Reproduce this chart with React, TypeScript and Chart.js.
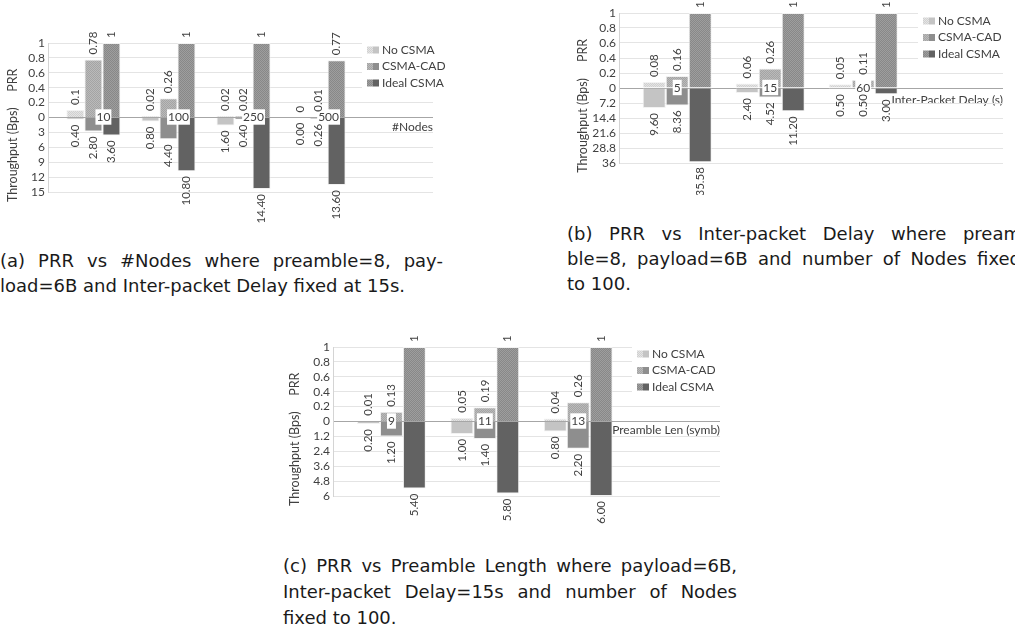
import React, { useEffect, useRef } from 'react';
import { Chart, registerables } from 'chart.js';

Chart.register(...registerables);

// ---------- shared ----------
const SERIES = ['No CSMA', 'CSMA-CAD', 'Ideal CSMA'];
const PRR_TICKS = ['0', '0.2', '0.4', '0.6', '0.8', '1'];

// ---------- (a) PRR vs #Nodes ----------
const A_CATEGORIES = ['10', '100', '250', '500'];
const A_PRR_NO = [0.1, 0.02, 0.02, 0];
const A_PRR_CAD = [0.78, 0.26, 0.02, 0.01];
const A_PRR_IDEAL = [1, 1, 1, 0.77];
const A_THR_NO = [0.4, 0.8, 1.6, 0.0];
const A_THR_CAD = [2.8, 4.4, 0.4, 0.26];
const A_THR_IDEAL = [3.6, 10.8, 14.4, 13.6];
const A_THR_TICKS = ['3', '6', '9', '12', '15'];

// ---------- (b) PRR vs Inter-packet Delay ----------
const B_CATEGORIES = ['5', '15', '60'];
const B_PRR_NO = [0.08, 0.06, 0.05];
const B_PRR_CAD = [0.16, 0.26, 0.11];
const B_PRR_IDEAL = [1, 1, 1];
const B_THR_NO = [9.6, 2.4, 0.5];
const B_THR_CAD = [8.36, 4.52, 0.5];
const B_THR_IDEAL = [35.58, 11.2, 3.0];
const B_THR_TICKS = ['7.2', '14.4', '21.6', '28.8', '36'];

// ---------- (c) PRR vs Preamble Length ----------
const C_CATEGORIES = ['9', '11', '13'];
const C_PRR_NO = [0.01, 0.05, 0.04];
const C_PRR_CAD = [0.13, 0.19, 0.26];
const C_PRR_IDEAL = [1, 1, 1];
const C_THR_NO = [0.2, 1.0, 0.8];
const C_THR_CAD = [1.2, 1.4, 2.2];
const C_THR_IDEAL = [5.4, 5.8, 6.0];
const C_THR_TICKS = ['1.2', '2.4', '3.6', '4.8', '6'];

const CAPTION_A = [
  '(a) PRR vs #Nodes where preamble=8, pay-',
  'load=6B and Inter-packet Delay fixed at 15s.',
];
const CAPTION_B = [
  '(b) PRR vs Inter-packet Delay where pream',
  'ble=8, payload=6B and number of Nodes fixed',
  'to 100.',
];
const CAPTION_C = [
  '(c) PRR vs Preamble Length where payload=6B,',
  'Inter-packet Delay=15s and number of Nodes',
  'fixed to 100.',
];

// ---------- styles ----------
const FONT = 'Lato';
const CAPTION_FONT = '"DejaVu Sans"';
const TEXT = '#404040';
const PRR_COLORS = [
  ['#d0d0d0', '#e4e4e4'],
  ['#a4a4a4', '#bababa'],
  ['#888888', '#9e9e9e'],
];
const THR_COLORS = ['#c4c4c4', '#8e8e8e', '#626262'];

function makePattern(base: string, dot: string) {
  const c = document.createElement('canvas');
  c.width = 2;
  c.height = 2;
  const g = c.getContext('2d')!;
  g.fillStyle = base;
  g.fillRect(0, 0, 2, 2);
  g.fillStyle = dot;
  g.fillRect(0, 0, 1, 1);
  g.fillRect(1, 1, 1, 1);
  return g.createPattern(c, 'repeat');
}

const overlayPlugin = {
  id: 'overlay',
  afterDraw(chart: any) {
    const o = chart.options.plugins.overlay;
    const ctx = chart.ctx;
    const area = chart.chartArea;
    const y = chart.scales.y;
    ctx.save();
    // value labels (rotated)
    ctx.font = `11.5px ${FONT}`;
    ctx.fillStyle = TEXT;
    ctx.textBaseline = 'middle';
    chart.data.datasets.forEach((ds: any, i: number) => {
      const meta = chart.getDatasetMeta(i);
      meta.data.forEach((bar: any, j: number) => {
        const txt = o.labels[i][j];
        ctx.save();
        if (o.kinds[i] === 'prr') {
          ctx.translate(bar.x, Math.min(bar.y, bar.base) - 5);
          ctx.rotate(-Math.PI / 2);
          ctx.textAlign = 'left';
        } else {
          ctx.translate(bar.x, Math.max(bar.y, bar.base) + 5);
          ctx.rotate(-Math.PI / 2);
          ctx.textAlign = 'right';
        }
        ctx.fillText(txt, 0, 0);
        ctx.restore();
      });
    });
    // axis titles
    ctx.font = `12.5px ${FONT}`;
    ctx.textAlign = 'center';
    [
      ['PRR', y.getPixelForValue(0.5)],
      ['Throughput (Bps)', y.getPixelForValue(-0.5)],
    ].forEach(([t, py]: any) => {
      ctx.save();
      ctx.translate(o.titleX, py);
      ctx.rotate(-Math.PI / 2);
      ctx.fillText(t, 0, 0);
      ctx.restore();
    });
    // legend
    const bx = area.right + o.legendDx;
    const by = area.top + o.legendDy;
    const step = 16.5;
    ctx.fillStyle = '#ffffff';
    ctx.fillRect(bx - 5, by - 9, area.right - bx + 5, step * 3 + 2);
    ctx.font = `12px ${FONT}`;
    ctx.textAlign = 'left';
    SERIES.forEach((name, s) => {
      const cy = by + s * step;
      ctx.fillStyle = o.prrFills[s];
      ctx.fillRect(bx, cy - 3.5, 6, 7);
      ctx.fillStyle = THR_COLORS[s];
      ctx.fillRect(bx + 6, cy - 3.5, 6, 7);
      ctx.fillStyle = TEXT;
      ctx.fillText(name, bx + 15, cy);
    });
    ctx.restore();
  },
};

type Cfg = {
  left: number; top: number; w: number; h: number;
  pad: { top: number; right: number; bottom: number; left: number };
  yWidth: number;
  categories: string[];
  prr: number[][];
  thr: number[][];
  thrTicks: string[];
  xMin: number; xMax: number;
  catPct: number;
  labelOffset: number;
  xTitle: string;
  xTitleOffset: number;
  titleX: number;
  legendDx: number; legendDy: number;
};

function buildConfig(p: Cfg): any {
  const thrMax = parseFloat(p.thrTicks[p.thrTicks.length - 1]);
  const prrFills = PRR_COLORS.map(([b, d]) => makePattern(b, d));
  const datasets: any[] = [];
  const labels: string[][] = [];
  const kinds: string[] = [];
  SERIES.forEach((name, s) => {
    datasets.push({
      label: name + ' PRR',
      stack: 's' + s,
      data: p.categories.map((_, i) => ({ x: i + 1, y: p.prr[s][i] })),
      backgroundColor: prrFills[s],
      borderColor: '#f2f2f2',
      borderWidth: 1,
    });
    labels.push(p.prr[s].map((v) => String(v)));
    kinds.push('prr');
    datasets.push({
      label: name + ' Throughput',
      stack: 's' + s,
      data: p.categories.map((_, i) => ({ x: i + 1, y: -p.thr[s][i] / thrMax })),
      backgroundColor: THR_COLORS[s],
      borderColor: '#f2f2f2',
      borderWidth: 1,
    });
    labels.push(p.thr[s].map((v) => v.toFixed(2)));
    kinds.push('thr');
  });
  const font = { family: FONT, size: 12 };
  return {
    type: 'bar',
    data: { datasets },
    plugins: [overlayPlugin],
    options: {
      responsive: false,
      animation: false,
      layout: { padding: p.pad },
      datasets: { bar: { categoryPercentage: p.catPct, barPercentage: 1 } },
      plugins: {
        legend: { display: false },
        tooltip: { enabled: false },
        overlay: {
          labels, kinds, prrFills,
          titleX: p.titleX, legendDx: p.legendDx, legendDy: p.legendDy,
        },
      },
      scales: {
        x: {
          type: 'linear',
          min: p.xMin,
          max: p.xMax,
          stacked: true,
          offset: false,
          position: { y: 0 },
          grid: { display: false, drawTicks: false, offset: false },
          border: { display: false },
          afterBuildTicks: (s: any) => {
            s.ticks = p.categories.map((_, i) => ({ value: i + 1 }));
          },
          afterFit: (s: any) => {
            s.height = 0;
          },
          ticks: {
            callback: (_v: any, i: number) => p.categories[i],
            autoSkip: false,
            maxRotation: 0,
            minRotation: 0,
            padding: -7.2,
            labelOffset: p.labelOffset,
            font,
            color: TEXT,
            showLabelBackdrop: true,
            backdropColor: '#ffffff',
            backdropPadding: { top: 1, bottom: 0, left: 1, right: 1 },
            z: 1,
          },
          title: {
            display: true,
            text: p.xTitle,
            align: 'end',
            font,
            color: TEXT,
            padding: { top: 0, bottom: -(p.xTitleOffset + 7.2) },
          },
        },
        y: {
          min: -1,
          max: 1,
          stacked: true,
          afterFit: (s: any) => {
            s.width = p.yWidth;
          },
          ticks: {
            stepSize: 0.2,
            autoSkip: false,
            padding: 3,
            font,
            color: TEXT,
            callback: (v: number) => {
              const k = Math.round(v * 5);
              return k >= 0 ? PRR_TICKS[k] : p.thrTicks[-k - 1];
            },
          },
          grid: {
            drawTicks: false,
            color: (c: any) => (Math.abs(c.tick.value) < 1e-6 ? '#a6a6a6' : '#e4e4e4'),
          },
          border: { display: true, color: '#d4d4d4' },
        },
      },
    },
  };
}

function BarChart({ cfg }: { cfg: Cfg }) {
  const ref = useRef<HTMLCanvasElement>(null);
  useEffect(() => {
    const chart = new Chart(ref.current as HTMLCanvasElement, buildConfig(cfg));
    return () => chart.destroy();
  }, []);
  return (
    <canvas
      ref={ref}
      width={cfg.w}
      height={cfg.h}
      style={{ position: 'absolute', left: cfg.left, top: cfg.top, width: cfg.w, height: cfg.h }}
    />
  );
}

function Caption({ lines, left, top, width, lh }: { lines: string[]; left: number; top: number; width: number; lh: number }) {
  return (
    <>
      {lines.map((ln, i) => {
        const last = i === lines.length - 1;
        return (
          <div
            key={i}
            style={{
              position: 'absolute',
              left,
              top: top + i * lh,
              width,
              height: lh,
              lineHeight: lh + 'px',
              fontFamily: CAPTION_FONT,
              fontSize: 18,
              color: '#1a1a1a',
              whiteSpace: 'pre',
              display: last ? 'block' : 'flex',
              justifyContent: 'space-between',
            }}
          >
            {last ? ln : ln.split(' ').map((w, k) => <span key={k}>{w}</span>)}
          </div>
        );
      })}
    </>
  );
}

const CFG_A: Cfg = {
  left: 0, top: 25, w: 455, h: 210,
  pad: { top: 18, right: 22, bottom: 43, left: 0 },
  yWidth: 48,
  categories: A_CATEGORIES,
  prr: [A_PRR_NO, A_PRR_CAD, A_PRR_IDEAL],
  thr: [A_THR_NO, A_THR_CAD, A_THR_IDEAL],
  thrTicks: A_THR_TICKS,
  xMin: 0.395, xMax: 5.524, catPct: 0.72, labelOffset: 10,
  xTitle: '#Nodes', xTitleOffset: 10, titleX: 13,
  legendDx: -66, legendDy: 7,
};

const CFG_B: Cfg = {
  left: 570, top: 0, w: 445, h: 195,
  pad: { top: 13, right: 12, bottom: 32, left: 0 },
  yWidth: 49,
  categories: B_CATEGORIES,
  prr: [B_PRR_NO, B_PRR_CAD, B_PRR_IDEAL],
  thr: [B_THR_NO, B_THR_CAD, B_THR_IDEAL],
  thrTicks: B_THR_TICKS,
  xMin: 0.374, xMax: 4.503, catPct: 0.742, labelOffset: 0,
  xTitle: 'Inter-Packet Delay (s)', xTitleOffset: 12, titleX: 13,
  legendDx: -80, legendDy: 8,
};

const CFG_C: Cfg = {
  left: 280, top: 330, w: 460, h: 200,
  pad: { top: 17, right: 20, bottom: 34, left: 0 },
  yWidth: 53,
  categories: C_CATEGORIES,
  prr: [C_PRR_NO, C_PRR_CAD, C_PRR_IDEAL],
  thr: [C_THR_NO, C_THR_CAD, C_THR_IDEAL],
  thrTicks: C_THR_TICKS,
  xMin: 0.374, xMax: 4.518, catPct: 0.736, labelOffset: 0,
  xTitle: 'Preamble Len (symb)', xTitleOffset: 9, titleX: 15,
  legendDx: -83, legendDy: 7,
};

export default function App() {
  return (
    <div
      style={{
        position: 'fixed',
        left: 0,
        top: 0,
        width: 1015,
        height: 634,
        overflow: 'hidden',
        background: '#ffffff',
      }}
    >
      <BarChart cfg={CFG_A} />
      <BarChart cfg={CFG_B} />
      <BarChart cfg={CFG_C} />
      <Caption lines={CAPTION_A} left={0} top={247.5} width={443} lh={25} />
      <Caption lines={CAPTION_B} left={567} top={220.5} width={454} lh={25} />
      <Caption lines={CAPTION_C} left={283} top={552.5} width={454} lh={26} />
    </div>
  );
}
